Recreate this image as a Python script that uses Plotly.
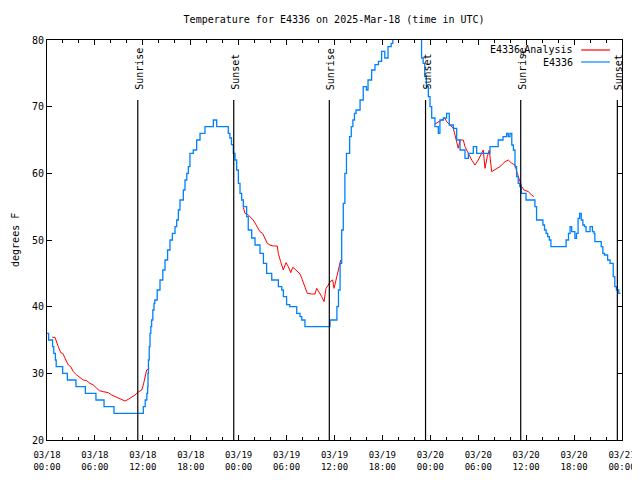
import pandas as pd
import plotly.graph_objects as go

START = pd.Timestamp("2025-03-18 00:00")

# Observed station temperature (hours since 03/18 00:00 UTC, degrees F)
obs_hours = [0.0, 0.2, 0.7, 0.85, 1.05, 1.15, 1.96, 2.55, 3.63, 4.8, 6.13, 7.14, 8.39,
             12.06, 12.3, 12.5, 12.6, 12.65, 12.7, 12.8, 12.9, 13.0, 13.1, 13.25, 13.4, 13.5,
             13.8, 14.15, 14.5, 14.78, 15.1, 15.4, 15.7, 16.03, 16.24, 16.45, 16.65, 17.07,
             17.28, 17.5, 17.7, 17.9, 18.32, 18.74, 19.16, 19.78, 20.83, 21.25, 22.7, 22.9,
             23.1, 23.33, 23.54, 23.75, 23.96, 24.17, 24.38, 24.58, 25.0, 25.2, 25.63, 26.05,
             26.67, 27.1, 27.5, 28.14, 28.97, 29.4, 29.6, 30.0, 30.4, 31.27, 31.68, 31.9,
             32.3, 35.44, 36.3, 36.5, 36.7, 36.9, 37.1, 37.3, 37.5, 37.9, 38.1, 38.3, 38.5,
             38.7, 39.2, 39.6, 40.0, 40.2, 40.65, 41.07, 41.5, 41.9, 42.3, 42.7, 43.1, 43.3,
             43.5, 44.5, 45.5, 46.5, 46.9, 47.1, 47.3, 47.5, 47.75, 47.96, 48.17, 48.58, 49.0,
             49.2, 49.63, 50.04, 50.37, 50.88, 51.3, 51.72, 52.34, 52.76, 53.38, 53.8, 55.47,
             56.5, 57.1, 57.56, 57.77, 57.98, 58.2, 58.4, 58.6, 58.8, 59.0, 59.2, 59.4, 59.98,
             61.1, 61.3, 62.1, 62.3, 62.5, 62.7, 62.9, 63.1, 65.0, 65.3, 65.5, 65.7, 66.1,
             66.3, 66.5, 66.7, 66.9, 67.1, 67.3, 67.5, 68.0, 68.3, 68.5, 68.6, 69.4, 69.6,
             69.8, 70.2, 70.5, 70.9, 71.1, 71.3, 71.6, 71.8, 72.0]
obs_temps = [36, 35, 34, 33, 32, 31, 30, 29, 28, 27, 26, 25, 24,
             25, 26, 27, 28, 30, 32, 34, 36, 37, 38, 39.5, 40.5, 41,
             42.5, 44, 45.5, 47, 48.5, 50, 51, 52, 53, 54.5, 56, 57.5,
             59, 60, 61, 63, 63.5, 65, 66, 67, 68, 67, 66, 65.3,
             64.3, 63, 62, 60.5, 58.5, 57, 56, 55, 53.5, 51.5, 50.3, 49.25,
             48, 46.5, 45, 44, 43, 42.5, 41.5, 40.3, 40, 39, 38.5, 38,
             37, 38, 40, 42.5, 46.5, 51.5, 55.5, 60, 63, 65.5, 67, 68,
             69, 69.5, 71, 73, 72.5, 74, 75.5, 76.3, 76.8, 78.3, 77.3, 79, 79.5,
             80.5, 81.5, 82, 81, 80.2, 77.3, 76.5, 74.5, 73, 71.5, 70, 68.3, 67,
             66, 68, 68.3, 69, 67.25, 66.75, 65, 63.5, 62.25, 63, 64, 63,
             64, 65, 65.5, 66, 65.5, 66, 64.25, 63.5, 61, 59.5, 58.5, 58, 57,
             56, 55, 53, 52.25, 51.5, 51, 50.5, 50, 49, 50, 51, 52, 51.25,
             50.25, 51, 53.25, 54, 53, 52.25, 52, 51.25, 52, 51.25, 51, 49.75, 49,
             48, 47.75, 47, 46.5, 44.5, 43, 42.5, 42, 42]

# Analysis temperature (None = gap)
ana_hours = [0.66, 1.0, 1.41, 1.72, 1.97, 2.25, 2.67, 2.97, 3.29, 3.72, 4.13, 4.55, 4.97,
             5.38, 5.8, 6.22, 6.55, 7.05, 7.68, 8.1, 8.73, 9.35, 9.77, 10.18, 10.6, 11.02,
             11.43, 11.86, 12.06, 12.27, 12.48, 12.81, 18.0,
             24.58, 24.79, 25.2, 25.63, 25.83, 26.26, 26.67, 27.0, 27.3, 27.58, 27.92, 28.34,
             28.84, 28.96, 29.26, 29.59, 29.93, 30.22, 30.52, 30.77, 31.18, 31.68, 31.9,
             32.18, 32.6, 33.14, 33.56, 33.77, 34.06, 34.4, 34.69, 34.94, 35.22, 35.44,
             35.77, 35.94, 36.19, 36.48, 36.78, 42.0,
             48.58, 49.0, 49.42, 49.84, 50.05, 50.46, 50.88, 51.09, 51.5, 51.72, 52.13,
             52.34, 52.75, 53.18, 53.59, 54.0, 54.63, 54.84, 55.13, 55.38, 55.68, 56.1,
             56.72, 57.35, 57.77, 58.19, 58.6, 58.89, 59.14, 59.44, 59.73, 60.27, 60.69,
             60.98]
ana_temps = [35.4, 35.4, 34, 33.1, 33, 32.3, 31.25, 31, 30.25, 29.75, 29.4, 29, 28.9,
             28.5, 28.25, 27.75, 27.4, 27.25, 27.1, 26.75, 26.4, 26.1, 25.85, 26.1, 26.4, 26.75,
             27.2, 27.5, 28.25, 29.4, 30.5, 30.75, None,
             54.9, 54, 53.75, 53.25, 53, 52.1, 51.25, 51, 50.25, 49.5, 49.25, 49.1,
             49.1, 48, 46.75, 45.5, 46.6, 46, 45.1, 45.9, 45.5, 44.9, 44.25,
             43.25, 42, 41.9, 41.9, 42.75, 42.25, 41.5, 40.75, 42.75, 43.25, 43.75,
             44, 42.75, 44, 45.5, 47, None,
             67.4, 67.75, 68, 68.25, 67.75, 67.25, 66.75, 65.75, 63.75, 65, 65,
             64, 63, 62, 61.25, 62, 63.5, 60.75, 62.5, 63.5, 60.25, 60.6,
             61, 61.75, 62, 61.5, 61.25, 60, 59, 58, 57.5, 57.25, 56.75,
             56.5]

sun_times = ["2025-03-18 11:22", "2025-03-18 23:23", "2025-03-19 11:21",
             "2025-03-19 23:24", "2025-03-20 11:19", "2025-03-20 23:25"]
sun_labels = ["Sunrise", "Sunset", "Sunrise", "Sunset", "Sunrise", "Sunset"]

tick_times = pd.date_range("2025-03-18 00:00", "2025-03-21 00:00", freq="6h")
tick_text = [t.strftime("%m/%d<br>%H:%M") for t in tick_times]

FONT = "DejaVu Sans Mono"

obs_x = [START + pd.Timedelta(hours=h) for h in obs_hours]
ana_x = [START + pd.Timedelta(hours=h) for h in ana_hours]

fig = go.Figure()
fig.add_trace(go.Scatter(x=ana_x, y=ana_temps, mode="lines", name="E4336_Analysis",
                         line=dict(color="#ff0000", width=1), connectgaps=False))
fig.add_trace(go.Scatter(x=obs_x, y=obs_temps, mode="lines", name="E4336",
                         line=dict(color="#0080ff", width=1.3, shape="hv")))

for t, lab in zip(sun_times, sun_labels):
    fig.add_shape(type="line", xref="x", yref="y domain", x0=t, x1=t, y0=0, y1=0.85,
                  line=dict(color="black", width=1.2))
    fig.add_annotation(x=t, xref="x", y=0.87, yref="y domain", text=lab, textangle=-90,
                       showarrow=False, xanchor="center", yanchor="bottom", xshift=1,
                       font=dict(family=FONT, size=10, color="black"))

# legend (gnuplot style: text left, sample right)
leg_items = [("E4336<sub>u</sub>Analysis", "#ff0000", 0.975), ("E4336", "#0080ff", 0.945)]
for txt, col, yy in leg_items:
    fig.add_annotation(x=0.918, xref="paper", y=yy, yref="y domain", text=txt,
                       showarrow=False, xanchor="right", yanchor="middle",
                       font=dict(family=FONT, size=10, color="black"))
    fig.add_shape(type="line", xref="paper", yref="y domain", x0=0.929, x1=0.979,
                  y0=yy, y1=yy, line=dict(color=col, width=1.2))

fig.add_annotation(x=-0.0557, xref="paper", y=0.5, yref="paper", text="degrees F",
                   textangle=-90, showarrow=False, xanchor="center", yanchor="middle",
                   font=dict(family=FONT, size=10, color="black"))

fig.update_layout(
    width=632, height=472,
    margin=dict(l=39, r=18, t=32, b=40, autoexpand=False),
    paper_bgcolor="white", plot_bgcolor="white",
    showlegend=False,
    title=dict(text="Temperature for E4336 on 2025-Mar-18 (time in UTC)", x=0.516,
               xanchor="center", y=0.975, yanchor="middle", automargin=False,
               font=dict(family=FONT, size=10, color="black")),
    font=dict(family=FONT, size=10, color="black"),
)
fig.update_xaxes(range=[START, START + pd.Timedelta(hours=72)], tickvals=tick_times,
                 ticktext=tick_text, ticks="inside", ticklen=5, tickcolor="black",
                 showline=True, linecolor="black", linewidth=1, mirror="ticks",
                 showgrid=False, zeroline=False, automargin=False,
                 ticklabelstandoff=6,
                 minor=dict(dtick=2 * 3600 * 1000, ticks="inside", ticklen=3,
                            tickcolor="black", showgrid=False),
                 tickfont=dict(family=FONT, size=9))
fig.update_yaxes(range=[20, 80], dtick=10, ticks="inside", ticklen=5, tickcolor="black",
                 showline=True, linecolor="black", linewidth=1, mirror="ticks",
                 showgrid=False, zeroline=False, automargin=False,
                 tickfont=dict(family=FONT, size=10))

fig.write_html("out.html")
